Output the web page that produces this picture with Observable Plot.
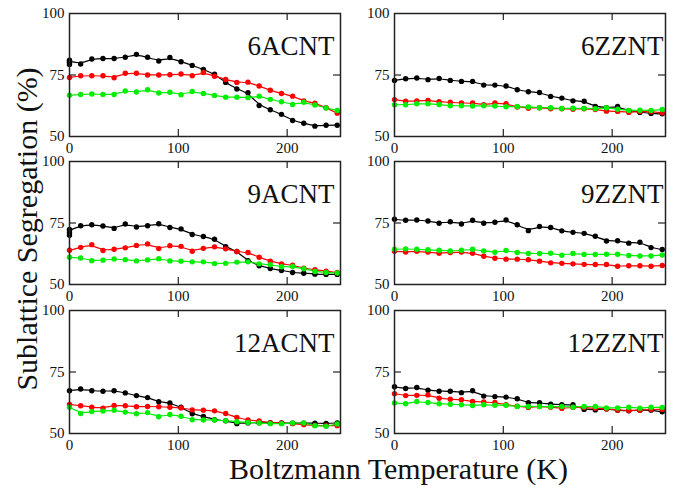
<!DOCTYPE html>
<html>
<head>
<meta charset="utf-8">
<script src="https://cdn.jsdelivr.net/npm/d3@7"></script>
<script src="https://cdn.jsdelivr.net/npm/@observablehq/plot@0.6"></script>
<style>
  html, body { margin: 0; padding: 0; background: white; }
  #chart { position: relative; width: 674px; height: 489px; overflow: hidden; font-family: "Liberation Serif", "Times New Roman", Times, "DejaVu Serif", serif; }
  .panel { position: absolute; }
  .xtitle { position: absolute; left: 0; width: 797px; top: 454px; line-height: 30px; text-align: center; font-size: 30px; color: #111; white-space: nowrap; }
  .ytitle { position: absolute; left: 27px; top: 229px; line-height: 30px; font-size: 30px; color: #111; white-space: nowrap; transform: translate(-50%, -50%) rotate(-90deg); }
</style>
</head>
<body>
<div id="chart"></div>
<script>
// Temperatures (K) of the simulation points
const temps = [0, 10.25, 20.5, 30.75, 41, 51.25, 61.5, 71.75, 82, 92.25, 102.5, 112.75, 123, 133.25, 143.5, 153.75, 164, 174.25, 184.5, 194.75, 205, 215.25, 225.5, 235.75, 246];

const panelNames = ["6ACNT", "6ZZNT", "9ACNT", "9ZZNT", "12ACNT", "12ZZNT"];
const seriesNames = ["black", "red", "green"];
const seriesColors = ["#000000", "#ff0000", "#00ee00"];
const xTicks = [0, 100, 200];
const yTicks = [50, 75, 100];

// 6ACNT
const black6A = [80.6, 79.5, 81.5, 81.7, 81.7, 82.2, 83.4, 82.2, 80.7, 82.1, 80.4, 78.9, 77.3, 75.3, 72.0, 69.3, 67.8, 62.6, 60.9, 59.0, 56.5, 55.4, 54.2, 54.6, 54.6];
const red6A   = [74.0, 74.7, 74.7, 74.7, 73.9, 75.7, 75.7, 75.0, 75.0, 75.1, 75.4, 74.7, 76.0, 74.5, 73.2, 72.0, 72.1, 70.5, 68.8, 67.5, 66.4, 64.5, 63.5, 61.7, 59.5];
const green6A = [66.8, 67.1, 67.3, 67.1, 67.1, 68.5, 68.1, 69.0, 67.7, 68.0, 67.0, 68.3, 67.5, 66.7, 66.0, 66.0, 65.8, 66.4, 65.1, 64.1, 63.0, 63.9, 62.8, 61.6, 60.6];
// 6ZZNT
const black6Z = [72.8, 73.5, 73.8, 73.1, 73.6, 72.8, 72.4, 72.4, 70.9, 70.9, 70.5, 69.0, 68.2, 67.9, 66.3, 65.6, 64.5, 64.3, 62.2, 61.7, 62.2, 60.5, 59.8, 59.4, 59.2];
const red6Z   = [65.0, 64.3, 64.5, 64.7, 64.1, 63.9, 63.6, 63.6, 62.9, 63.6, 63.3, 62.0, 61.5, 61.7, 61.3, 61.3, 61.1, 61.3, 61.0, 60.3, 60.2, 59.8, 60.2, 60.1, 59.6];
const green6Z = [62.9, 62.9, 63.3, 63.3, 63.0, 62.5, 62.5, 62.4, 62.5, 62.4, 62.1, 62.2, 62.0, 61.7, 61.7, 61.4, 61.5, 61.4, 61.3, 61.7, 61.1, 60.6, 60.7, 60.6, 61.0];
// 9ACNT
const black9A = [72.0, 73.9, 74.3, 73.8, 72.8, 74.6, 73.4, 73.9, 74.7, 73.2, 72.6, 70.3, 69.5, 68.4, 65.4, 63.4, 59.7, 57.6, 56.5, 55.7, 54.9, 54.6, 54.2, 54.1, 54.1];
const red9A   = [63.9, 65.1, 66.2, 63.8, 64.3, 64.9, 65.9, 66.5, 64.6, 65.8, 65.5, 63.5, 64.7, 65.3, 64.5, 63.4, 63.0, 61.1, 59.5, 58.4, 57.8, 56.6, 56.0, 55.4, 54.9];
const green9A = [61.1, 60.8, 59.7, 59.9, 60.4, 60.1, 59.6, 60.0, 60.5, 59.6, 59.5, 59.2, 59.2, 58.5, 58.6, 59.1, 59.2, 58.4, 58.0, 57.2, 57.3, 56.4, 55.3, 54.9, 54.7];
// 9ZZNT
const black9Z = [76.5, 76.1, 76.2, 75.8, 74.9, 75.5, 74.6, 76.1, 74.9, 75.3, 76.2, 74.3, 71.9, 73.6, 73.2, 71.8, 71.2, 70.8, 69.6, 67.7, 67.8, 66.8, 67.2, 65.0, 64.2];
const red9Z   = [63.5, 63.2, 63.5, 63.2, 62.7, 63.0, 63.2, 62.7, 61.5, 60.7, 60.3, 60.3, 60.1, 59.5, 58.8, 58.6, 58.4, 58.2, 58.1, 58.1, 57.4, 57.6, 57.6, 57.4, 57.7];
const green9Z = [64.3, 64.5, 64.3, 64.1, 63.9, 63.6, 63.9, 64.3, 63.6, 63.1, 63.8, 63.0, 62.6, 62.6, 62.7, 61.9, 62.6, 62.2, 62.2, 62.3, 62.3, 61.8, 61.6, 61.6, 62.0];
// 12ACNT
const black12A = [67.4, 68.1, 67.4, 67.2, 67.4, 66.5, 65.4, 64.6, 62.9, 62.4, 60.7, 58.0, 56.9, 55.6, 55.2, 54.0, 54.3, 54.4, 54.4, 54.3, 54.2, 54.2, 54.2, 54.1, 54.3];
const red12A   = [61.8, 61.3, 60.7, 60.3, 61.4, 61.3, 60.9, 61.0, 60.9, 60.7, 60.4, 59.6, 59.5, 59.2, 58.1, 56.5, 55.5, 55.1, 54.3, 54.3, 54.0, 53.6, 53.3, 53.2, 53.2];
const green12A = [60.7, 58.1, 58.9, 59.1, 59.5, 58.7, 58.0, 58.5, 56.8, 57.7, 57.0, 55.6, 55.5, 55.5, 55.2, 54.8, 54.5, 54.3, 54.0, 54.0, 54.3, 54.3, 53.2, 52.9, 53.9];
// 12ZZNT
const black12Z = [69.0, 68.3, 68.7, 67.6, 67.2, 67.2, 66.6, 67.4, 65.2, 65.0, 64.8, 64.1, 62.5, 62.5, 61.9, 61.7, 61.7, 59.8, 59.6, 60.0, 59.5, 59.2, 59.5, 59.5, 58.8];
const red12Z   = [66.2, 65.4, 65.5, 65.7, 64.3, 63.9, 63.7, 63.0, 62.8, 62.6, 61.7, 61.1, 60.6, 61.0, 60.7, 60.2, 60.6, 60.6, 60.3, 60.0, 59.5, 59.3, 59.5, 59.8, 59.8];
const green12Z = [62.4, 62.1, 63.0, 62.6, 62.1, 61.9, 61.7, 61.4, 61.7, 61.5, 61.5, 61.0, 61.0, 61.0, 60.9, 61.0, 60.7, 61.0, 61.0, 60.4, 60.4, 60.7, 60.3, 60.7, 60.6];

// repeated runs at T = 0 (overlapping black points)
const extraBlack6A = [79.3, 80.0, 81.0];
const extraBlack9A = [70.0, 71.0, 72.4];

const panelSeries = [
  [black6A, red6A, green6A],
  [black6Z, red6Z, green6Z],
  [black9A, red9A, green9A],
  [black9Z, red9Z, green9Z],
  [black12A, red12A, green12A],
  [black12Z, red12Z, green12Z]
];
const panelExtras = [extraBlack6A, [], extraBlack9A, [], [], []];

// layout
const colFrameLeft = [69, 394];
const rowFrameTop = [13, 161, 310];
const frameW = 271, frameH = 123;
const mL = 40, mR = 8, mT = 12, mB = 24;
const labelDx = [-6, -2];
const serif = "'Liberation Serif', 'Times New Roman', Times, 'DejaVu Serif', serif";

const chart = document.getElementById("chart");

panelNames.forEach((name, i) => {
  const col = i % 2, row = Math.floor(i / 2);
  const rows = [];
  panelSeries[i].forEach((vals, s) => {
    vals.forEach((v, k) => rows.push({T: temps[k], v, s: seriesNames[s]}));
  });
  const extras = panelExtras[i].map(v => ({T: temps[0], v, s: "black"}));
  const marks = [];
  seriesNames.forEach((sn, s) => {
    const d = rows.filter(r => r.s === sn);
    marks.push(Plot.line(d, {x: "T", y: "v", stroke: seriesColors[s], strokeWidth: 1.2, curve: "basis"}));
  });
  seriesNames.forEach((sn, s) => {
    const d = rows.filter(r => r.s === sn).concat(sn === "black" ? extras : []);
    marks.push(Plot.dot(d, {x: "T", y: "v", fill: seriesColors[s], r: 2.7}));
  });
  // inward ticks
  marks.push(Plot.ruleX([100, 200], {y1: 50, y2: 52.8, stroke: "#333", strokeWidth: 1.3}));
  marks.push(Plot.ruleX([100, 200], {y1: 97.2, y2: 100, stroke: "#333", strokeWidth: 1.3}));
  marks.push(Plot.ruleY([75], {x1: 0, x2: 6.4, stroke: "#333", strokeWidth: 1.3}));
  marks.push(Plot.ruleY([75], {x1: 242.6, x2: 249, stroke: "#333", strokeWidth: 1.3}));
  marks.push(Plot.axisX({ticks: xTicks, tickSize: 0, tickPadding: 6, label: null, fontSize: 15, fontFamily: serif}));
  marks.push(Plot.axisY({ticks: yTicks, tickSize: 0, tickPadding: 5, label: null, fontSize: 15, fontFamily: serif}));
  marks.push(Plot.frame({stroke: "#222", strokeWidth: 1.5}));
  marks.push(Plot.text([name], {frameAnchor: "top-right", textAnchor: "end", lineAnchor: "top", dx: labelDx[col], dy: 22, fontSize: 27, fontFamily: serif, fill: "#111"}));

  const svg = Plot.plot({
    width: mL + frameW + mR,
    height: mT + frameH + mB,
    marginLeft: mL, marginRight: mR, marginTop: mT, marginBottom: mB,
    x: {domain: [0, 249]},
    y: {domain: [50, 100]},
    style: {fontFamily: serif, fontSize: "15px", color: "#111", background: "none", overflow: "visible"},
    marks
  });
  const wrap = document.createElement("div");
  wrap.className = "panel";
  wrap.style.left = (colFrameLeft[col] - mL) + "px";
  wrap.style.top = (rowFrameTop[row] - mT) + "px";
  wrap.appendChild(svg);
  chart.appendChild(wrap);
});

const xt = document.createElement("div");
xt.className = "xtitle";
xt.textContent = "Boltzmann Temperature (K)";
chart.appendChild(xt);
const yt = document.createElement("div");
yt.className = "ytitle";
yt.textContent = "Sublattice Segregation (%)";
chart.appendChild(yt);
</script>
</body>
</html>
